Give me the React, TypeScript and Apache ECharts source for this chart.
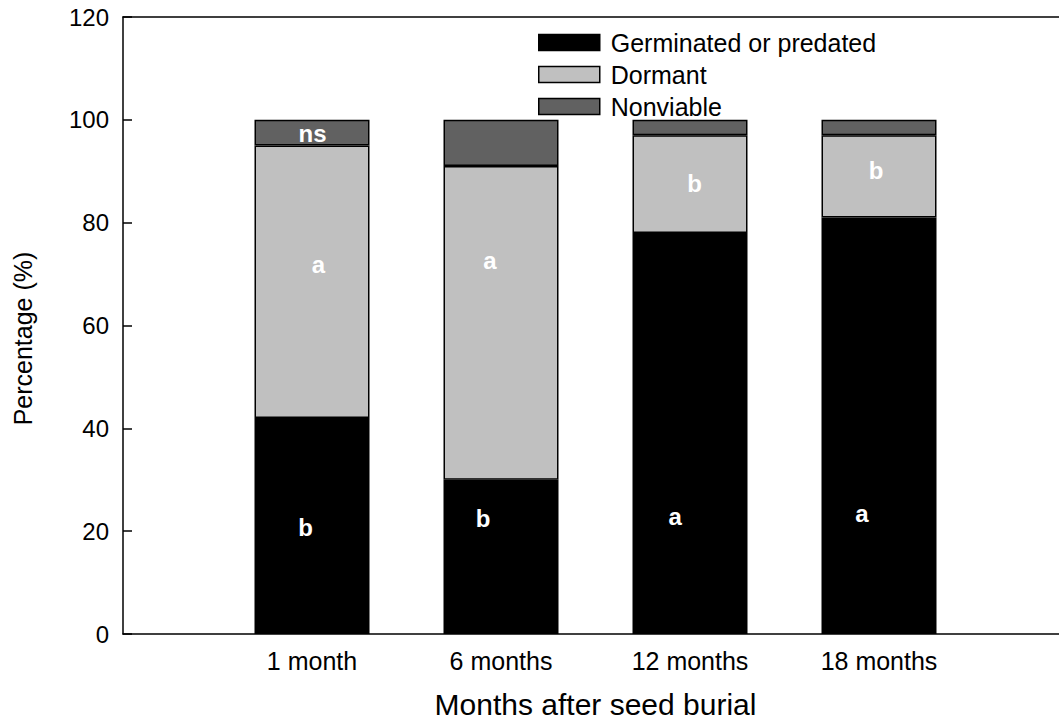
import React, { useEffect, useRef } from "react";
import * as echarts from "echarts";

const categories = ["", "1 month", "6 months", "12 months", "18 months", ""];
const germinated = [null, 42, 30, 78, 81, null];
const dormant = [null, 53, 61, 19, 16, null];
const nonviable = [null, 5, 9, 3, 3, null];

const yTicks = [0, 20, 40, 60, 80, 100, 120];

// significance letters: [x position, y value, letter]
const germLetters: [number, number, string][] = [
  [0.966, 20.8, "b"],
  [1.905, 22.4, "b"],
  [2.921, 22.8, "a"],
  [3.91, 23.4, "a"],
];
const dormLetters: [number, number, string][] = [
  [1.034, 71.8, "a"],
  [1.942, 72.7, "a"],
  [3.024, 87.7, "b"],
  [3.984, 90.2, "b"],
];
const nonvLetters: [number, number, string][] = [[1.003, 97.4, "ns"]];

const FONT = "'Liberation Sans', Arial, Helvetica, sans-serif";

export default function App() {
  const ref = useRef<HTMLDivElement>(null);
  useEffect(() => {
    if (!ref.current) return;
    const chart = echarts.init(ref.current, null, { renderer: "svg" });
    const border = { borderColor: "#000", borderWidth: 1.5 };
    const mkBar = (name: string, vals: (number | null)[], color: string) => ({
      name,
      type: "bar",
      stack: "total",
      barWidth: 115,
      xAxisIndex: 0,
      data: vals.map((v) => (v == null ? "-" : v)),
      itemStyle: { color, ...border },
    });
    const mkLetters = (d: [number, number, string][]) => ({
      type: "scatter",
      xAxisIndex: 1,
      symbolSize: 0,
      silent: true,
      z: 10,
      itemStyle: { color: "#fff", opacity: 1 },
      data: d.map((p) => ({ value: [p[0], p[1]], name: p[2] })),
      label: {
        show: true,
        position: "inside",
        formatter: (p: any) => p.name,
        color: "#ffffff",
        opacity: 1,
        textBorderWidth: 0,
        textBorderColor: "transparent",
        fontWeight: "bold",
        fontSize: 24,
        fontFamily: FONT,
      },
    });
    chart.setOption({
      animation: false,
      backgroundColor: "#fff",
      textStyle: { fontFamily: FONT },
      grid: { left: 123, right: 0, top: 17, bottom: 94, containLabel: false },
      legend: {
        orient: "vertical",
        left: 533,
        top: 25,
        itemWidth: 61,
        itemHeight: 16,
        itemGap: 7,
        icon: "rect",
        data: ["Germinated or predated", "Dormant", "Nonviable"],
        textStyle: {
          fontSize: 25,
          color: "#000",
          fontFamily: FONT,
          padding: [0, 0, 0, 6],
        },
        itemStyle: { borderColor: "#000", borderWidth: 1.5 },
      },
      xAxis: [
        {
          type: "category",
          data: categories,
          boundaryGap: false,
          position: "bottom",
          splitLine: { show: false },
          axisTick: { show: false },
          axisLine: { show: true, lineStyle: { color: "#000", width: 1.5 } },
          axisLabel: {
            fontSize: 25,
            color: "#000",
            margin: 14,
            fontFamily: FONT,
            interval: 0,
          },
          name: "Months after seed burial",
          nameLocation: "middle",
          nameGap: 55,
          nameTextStyle: { fontSize: 30, color: "#000", fontFamily: FONT },
        },
        {
          type: "value",
          min: 0,
          max: 5,
          position: "top",
          splitLine: { show: false },
          axisTick: { show: false },
          axisLabel: { show: false },
          axisLine: { show: true, lineStyle: { color: "#000", width: 1.5 } },
        },
      ],
      yAxis: {
        type: "value",
        min: yTicks[0],
        max: yTicks[yTicks.length - 1],
        interval: 20,
        splitLine: { show: false },
        axisLine: { show: true, lineStyle: { color: "#000", width: 1.5 } },
        axisTick: { show: true, inside: true, length: 9, lineStyle: { color: "#000", width: 1.5 } },
        axisLabel: { fontSize: 24, color: "#000", margin: 14, fontFamily: FONT },
        name: "Percentage (%)",
        nameLocation: "middle",
        nameGap: 88,
        nameRotate: 90,
        nameTextStyle: { fontSize: 25, color: "#000", fontFamily: FONT, padding: [0, 26, 0, 0] },
      },
      series: [
        mkBar("Germinated or predated", germinated, "#000000"),
        mkBar("Dormant", dormant, "#c0c0c0"),
        mkBar("Nonviable", nonviable, "#616161"),
        mkLetters(germLetters),
        mkLetters(dormLetters),
        mkLetters(nonvLetters),
      ],
    });
    return () => chart.dispose();
  }, []);
  return (
    <div style={{ width: 1059, height: 728, position: "absolute", left: 0, top: 0, overflow: "hidden" }}>
      <div ref={ref} style={{ width: 1071, height: 728, position: "absolute", left: 0, top: 0 }} />
    </div>
  );
}
